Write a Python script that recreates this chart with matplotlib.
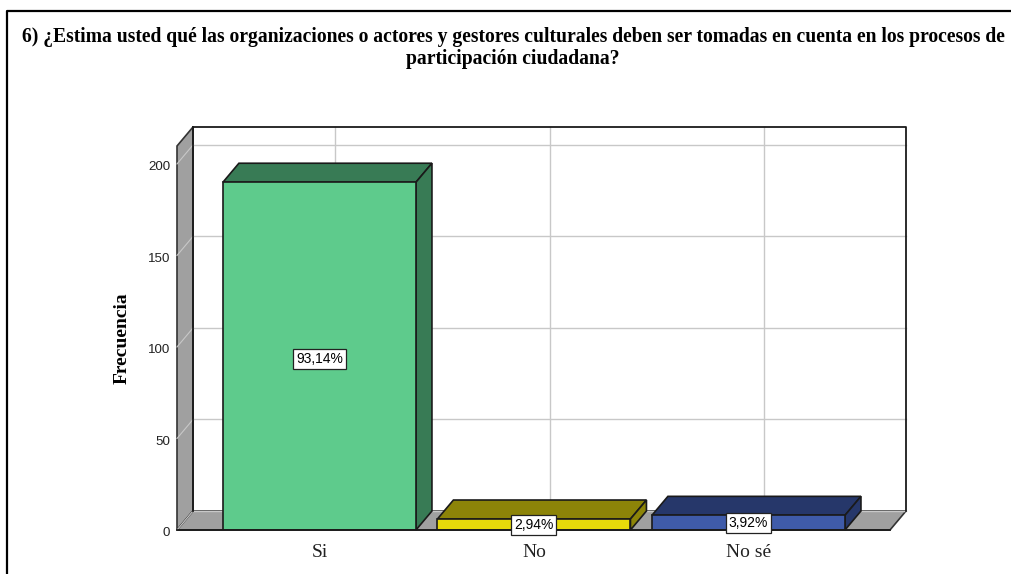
import matplotlib
matplotlib.use('Agg')
from matplotlib import pyplot as plt
from matplotlib.patches import Polygon, Rectangle
from matplotlib.transforms import ScaledTranslation

categories = ['Si', 'No', 'No sé']
frecuencia = [190, 6, 8]
porcentajes = ['93,14%', '2,94%', '3,92%']
colores = ['#5ECB8C', '#E6D90A', '#3F5BA9']
oscuros = ['#387B55', '#8C8408', '#26376A']
y_ticks = [0, 50, 100, 150, 200]

W, H = 1011, 574
PX_X = 214.5   # pixels per category
PX_Y = 1.83    # pixels per unit of frecuencia
DX = 16 / PX_X  # depth of the 3d effect, in data units
DY = 19 / PX_Y
ANCHO = 0.9
TOPE = 209.8
XMIN, XMAX = -0.664, 2.66
GRIS = '#A0A0A0'
SERIF = 'Liberation Serif'
SANS = 'Liberation Sans'

fig = plt.figure(figsize=(W / 100, H / 100), dpi=100, facecolor='white')

# outer frame, only top and left are visible in the picture
fig.add_artist(plt.Line2D([7 / W, 7 / W, 1], [0, 1 - 11 / H, 1 - 11 / H], color='black', lw=1.6))

fig.text(513 / W, 1 - 48 / H,
         '6) ¿Estima usted qué las organizaciones o actores y gestores culturales deben ser tomadas en cuenta en los procesos de\nparticipación ciudadana?',
         ha='center', va='center', family=SERIF, weight='bold', fontsize=14.15, linespacing=1.1)

ax = fig.add_axes([177 / W, 1 - 530 / H, 713 / W, 403 / H])
ax.set_xlim(XMIN, XMAX)
ax.set_ylim(0, TOPE + DY)
for s in ax.spines.values():
    s.set_visible(False)


def poly(puntos, color, z, edge='#1A1A1A', lw=1.2):
    ax.add_patch(Polygon(puntos, closed=True, facecolor=color, edgecolor=edge, lw=lw, zorder=z, clip_on=False))


# left wall and floor
poly([(XMIN, 0), (XMIN + DX, DY), (XMIN + DX, TOPE + DY), (XMIN, TOPE)], GRIS, 1, edge='#333333')
poly([(XMIN, 0), (XMIN + DX, DY), (XMAX + DX, DY), (XMAX, 0)], GRIS, 1, edge='#333333')

# back plane grid
for v in y_ticks:
    ax.plot([XMIN + DX, XMAX + DX], [v + DY, v + DY], color='#C8C8C8', lw=1.0, zorder=1.5, clip_on=False)
    ax.plot([XMIN, XMIN + DX], [v, v + DY], color='#C8C8C8', lw=0.8, zorder=1.5, clip_on=False)
for i in range(len(categories)):
    ax.plot([i + DX, i + DX], [DY, TOPE + DY], color='#C8C8C8', lw=1.0, zorder=1.5, clip_on=False)
ax.plot([XMIN + DX, XMAX + DX, XMAX + DX], [TOPE + DY, TOPE + DY, DY], color='#1A1A1A', lw=1.3, zorder=2, clip_on=False)
ax.plot([XMIN + DX, XMIN + DX], [DY, TOPE + DY], color='#1A1A1A', lw=1.3, zorder=2, clip_on=False)

# bars: front, top and side faces
for i, v in enumerate(frecuencia):
    x0, x1 = i - ANCHO / 2, i + ANCHO / 2
    poly([(x0, v), (x0 + DX, v + DY), (x1 + DX, v + DY), (x1, v)], oscuros[i], 3)
    poly([(x1, 0), (x1 + DX, DY), (x1 + DX, v + DY), (x1, v)], oscuros[i], 3)
    ax.add_patch(Rectangle((x0, 0), ANCHO, v, facecolor=colores[i], edgecolor='#1A1A1A', lw=1.2, zorder=4))
    ax.text(i, v / 2 - 1.5 if v > 50 else v / 2 - 0.3, porcentajes[i], ha='center', va='center',
            family=SANS, fontsize=10, zorder=6,
            bbox=dict(boxstyle='square,pad=0.2', facecolor='white', edgecolor='#222222', lw=0.9))

ax.plot([XMIN, XMAX], [0, 0], color='#1A1A1A', lw=1.3, zorder=5, clip_on=False)

ax.set_xticks(range(len(categories)), categories, family=SERIF, fontsize=14, color='#222222')
ax.set_yticks(y_ticks, [str(v) for v in y_ticks], family=SANS, fontsize=9.6, color='#222222')
ax.tick_params(length=0, axis='x', pad=10)
ax.tick_params(length=0, axis='y', pad=5)
bajar = ScaledTranslation(0, -2.5 / 72, fig.dpi_scale_trans)
for lab in ax.get_yticklabels():
    lab.set_verticalalignment('center')
    lab.set_transform(lab.get_transform() + bajar)
ax.set_ylabel('Frecuencia', family=SERIF, weight='bold', fontsize=14, labelpad=0)
ax.yaxis.set_label_coords((131 - 177) / 713, (530 - 338) / 403)

fig.savefig('out.png', dpi=100)
